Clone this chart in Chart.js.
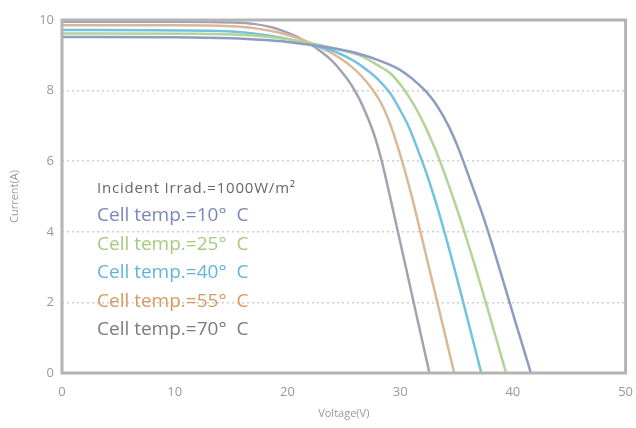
<!DOCTYPE html>
<html>
<head>
<meta charset="utf-8">
<script src="https://cdn.jsdelivr.net/npm/chart.js@4.4.1/dist/chart.umd.min.js"></script>
<style>
  html, body { margin: 0; padding: 0; background: #fff; }
  #wrap { width: 636px; height: 428px; position: relative; }
</style>
</head>
<body>
<div id="wrap"><canvas id="grafica"></canvas></div>
<script>
// Curvas I-V, leidas a ojo de la imagen (voltaje V, corriente A)
const v70 = [0, 10, 15, 17, 18.5, 20, 21, 22, 23, 24, 24.9, 25.7, 26.4, 27.1, 27.8, 28.45, 29.1, 29.8, 30.5, 31.2, 31.9, 32.6];
const i70 = [9.95, 9.95, 9.93, 9.89, 9.8, 9.64, 9.5, 9.32, 9.1, 8.83, 8.5, 8.15, 7.75, 7.25, 6.65, 5.9, 5.0, 4.0, 3.0, 2.0, 1.0, 0];
const v55 = [0, 10, 15, 17, 19, 20.5, 22, 23.3, 24.5, 25.6, 26.6, 27.5, 28.3, 29.0, 29.7, 30.4, 31.1, 31.8, 32.55, 33.3, 34.05, 34.8];
const i55 = [9.85, 9.85, 9.82, 9.77, 9.66, 9.53, 9.36, 9.17, 8.95, 8.7, 8.4, 8.05, 7.65, 7.15, 6.5, 5.75, 4.92, 4.0, 3.0, 2.0, 1.0, 0];
const v40 = [0, 14, 17, 19.5, 21.5, 23, 24.4, 25.8, 27.0, 28.1, 29.1, 30.0, 30.8, 31.6, 32.4, 33.2, 34.0, 34.8, 35.6, 36.4, 37.2];
const i40 = [9.72, 9.69, 9.62, 9.5, 9.35, 9.22, 9.08, 8.86, 8.6, 8.3, 7.93, 7.45, 6.95, 6.3, 5.6, 4.8, 3.92, 2.98, 2.0, 1.0, 0];
const v25 = [0, 12, 16, 19, 21.5, 23.3, 25, 26.6, 28, 29.2, 30.3, 31.3, 32.2, 33.1, 34.0, 34.9, 35.8, 36.7, 37.6, 38.5, 39.4];
const i25 = [9.62, 9.61, 9.58, 9.5, 9.38, 9.26, 9.13, 8.97, 8.72, 8.47, 8.05, 7.55, 7.0, 6.35, 5.6, 4.78, 3.9, 2.97, 2.0, 1.0, 0];
const v10 = [0, 10, 15, 18, 20, 22, 24, 26, 28, 29.5, 30.5, 31.5, 32.3, 33, 33.7, 34.4, 35.1, 35.8, 36.6, 37.4, 38.2, 39, 39.8, 40.7, 41.6];
const i10 = [9.52, 9.51, 9.48, 9.43, 9.38, 9.3, 9.2, 9.07, 8.87, 8.67, 8.48, 8.22, 7.97, 7.7, 7.35, 6.93, 6.42, 5.83, 5.12, 4.4, 3.6, 2.76, 1.9, 0.95, 0];

const etiquetas = ['Cell temp.=10°  C', 'Cell temp.=25°  C', 'Cell temp.=40°  C', 'Cell temp.=55°  C', 'Cell temp.=70°  C'];
const nota = 'Incident Irrad.=1000W/m²';

const colores = ['#8d9cc2', '#b2d496', '#72c2e0', '#dcb896', '#a4a2b2'];
const coloresTexto = ['#7788bb', '#a6cc80', '#62b4dc', '#d89a62', '#7c7c7c'];

const pares = (xs, ys) => xs.map((x, k) => ({ x: x, y: ys[k] }));

// Marco gris y textos de la leyenda dentro del area
const marco = {
    id: 'marco',
    afterDraw(chart) {
        const a = chart.chartArea;
        const ctx = chart.ctx;
        ctx.save();
        ctx.strokeStyle = '#b4b4b4';
        ctx.lineWidth = 3;
        ctx.strokeRect(a.left, a.top, a.right - a.left, a.bottom - a.top);
        ctx.textBaseline = 'middle';
        ctx.textAlign = 'left';
        ctx.font = '15px "Open Sans"';
        ctx.letterSpacing = '0.8px';
        ctx.fillStyle = '#666';
        ctx.fillText(nota, a.left + 35, 189);
        ctx.letterSpacing = '0px';
        ctx.font = '19px "Open Sans"';
        etiquetas.forEach((t, k) => {
            ctx.fillStyle = coloresTexto[k];
            ctx.fillText(t, a.left + 35, 216 + k * 28.5);
        });
        ctx.restore();
    }
};

const series = [[v10, i10], [v25, i25], [v40, i40], [v55, i55], [v70, i70]];

new Chart(document.getElementById('grafica'), {
    type: 'scatter',
    data: {
        datasets: series.map((s, k) => ({
            label: etiquetas[k],
            data: pares(s[0], s[1]),
            showLine: true,
            borderColor: colores[k],
            borderWidth: 2.5,
            pointRadius: 0,
            cubicInterpolationMode: 'monotone'
        }))
    },
    options: {
        responsive: true,
        maintainAspectRatio: false,
        animation: false,
        layout: { padding: { top: 20, right: 8, left: 4, bottom: 4 } },
        plugins: { legend: { display: false }, tooltip: { enabled: false } },
        scales: {
            x: {
                min: 0, max: 50,
                ticks: { stepSize: 10, color: '#999', font: { family: 'Open Sans', size: 13 }, padding: 3 },
                grid: { display: false },
                border: { display: false },
                title: { display: true, text: 'Voltage(V)', color: '#999', font: { family: 'Open Sans', size: 11 }, padding: { top: 6 } },
                afterFit(scale) { scale.height = 51; }
            },
            y: {
                min: 0, max: 10,
                ticks: { stepSize: 2, color: '#999', font: { family: 'Open Sans', size: 13 }, padding: 8 },
                grid: {
                    color: (c) => (c.tick.value === 0 || c.tick.value === 10) ? 'rgba(0,0,0,0)' : '#cfcfcf',
                    drawTicks: false,
                    lineWidth: 1.5
                },
                border: { display: false, dash: [2, 3] },
                title: { display: true, text: 'Current(A)', color: '#999', font: { family: 'Open Sans', size: 11 } },
                afterFit(scale) { scale.width = 58; }
            }
        }
    },
    plugins: [marco]
});
</script>
</body>
</html>
